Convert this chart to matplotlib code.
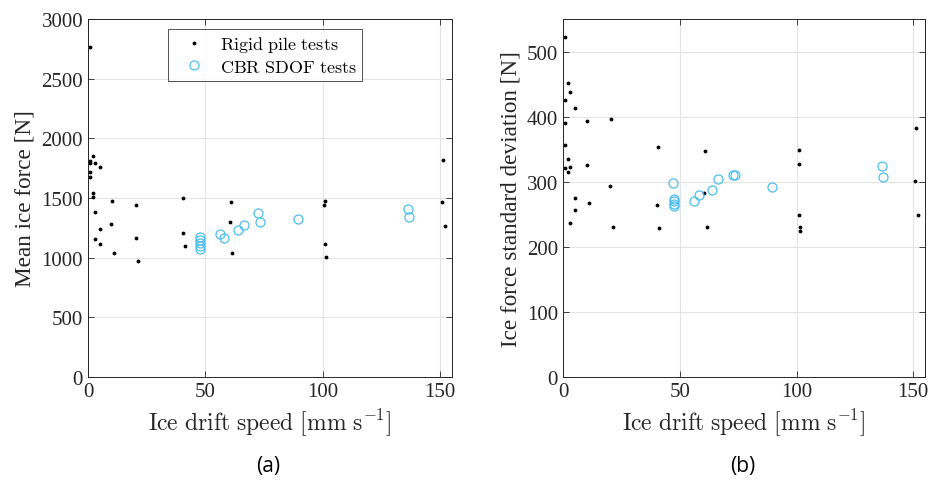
import matplotlib.pyplot as plt

plt.rcParams['font.family'] = ['Liberation Serif', 'DejaVu Serif']
plt.rcParams['mathtext.fontset'] = 'cm'

# (a) mean ice force, rigid pile tests
rigid_speed_a = [1, 2, 1, 1, 3, 5.1, 1, 1, 2, 2, 10.3, 20.6, 3, 10, 5.1, 3, 5.1, 11,
                 20.3, 21.1, 40.6, 40.3, 41.3, 61, 60.5, 61.4, 100.9, 100.6, 100.9,
                 101.5, 151.1, 150.7, 151.9]
rigid_force = [2765, 1852, 1813, 1790, 1796, 1763, 1718, 1673, 1545, 1511, 1478, 1441,
               1380, 1282, 1243, 1159, 1112, 1036, 1168, 975, 1497, 1209, 1101, 1466,
               1295, 1042, 1475, 1441, 1115, 1006, 1815, 1466, 1264]

# (a) mean ice force, CBR SDOF tests
cbr_speed_a = [47.5, 47.6, 47.7, 47.7, 47.8, 56.3, 58.0, 63.8, 66.4, 72.6, 73.3, 89.3,
               136.1, 136.6]
cbr_force = [1176, 1148, 1120, 1094, 1074, 1197, 1166, 1228, 1275, 1376, 1301, 1323,
             1407, 1343]

# (b) ice force standard deviation, rigid pile tests
rigid_speed_b = [1, 2.1, 3.1, 1, 5, 1, 10.4, 20.6, 1, 2.1, 1, 3.1, 2.1, 10.1, 20.1, 5,
                 5, 11.1, 3.1, 21.3, 40.6, 40.3, 41.3, 61, 60.4, 61.5, 101.1, 100.9,
                 101.1, 101.7, 101.7, 151.3, 150.9, 152]
rigid_std = [522, 451, 438, 426, 413, 390, 393, 396, 356, 335, 321, 322, 315, 325, 293,
             275, 257, 267, 237, 230, 353, 265, 229, 347, 283, 231, 349, 328, 249, 231,
             224, 382, 301, 249]

# (b) ice force standard deviation, CBR SDOF tests
cbr_speed_b = [47.2, 47.6, 47.6, 47.7, 47.7, 56.3, 58.1, 63.8, 66.5, 72.9, 73.6, 89.5,
               136.5, 137.0]
cbr_std = [298, 274, 270, 266, 262, 270, 279, 287, 304, 311, 311, 292, 324, 307]

blue = '#4DBEEE'
xlabel = r'$\mathrm{Ice\ drift\ speed\ [mm\ s^{-1}]}$'

fig = plt.figure(figsize=(9.31, 4.81), dpi=100)
ax1 = fig.add_axes([0.0945, 0.2141, 0.391, 0.7443])
ax2 = fig.add_axes([0.6047, 0.2141, 0.3888, 0.7443])

for ax in (ax1, ax2):
    ax.grid(True, color='#e3e3e3', linewidth=0.8)
    ax.set_axisbelow(True)
    ax.tick_params(direction='in', top=True, right=True, labelsize=15,
                   colors='#262626', length=4, width=0.6)
    for s in ax.spines.values():
        s.set_color('#262626')
        s.set_linewidth(0.7)
    ax.set_xlim(0, 155)
    ax.set_xticks([0, 50, 100, 150])
    ax.set_xlabel(xlabel, fontsize=17, color='#262626', labelpad=4)

ax1.plot(rigid_speed_a, rigid_force, '.', color='black', markersize=3.5,
         label='Rigid pile tests')
ax1.plot(cbr_speed_a, cbr_force, 'o', mfc='none', mec=blue, markersize=6.5,
         markeredgewidth=0.9, label='CBR SDOF tests')
ax1.set_ylim(0, 3000)
ax1.set_yticks(range(0, 3001, 500))
ax1.set_ylabel('Mean ice force [N]', fontsize=16.7, color='#262626', labelpad=4)
leg = ax1.legend(loc='upper left', bbox_to_anchor=(0.219, 0.972), borderaxespad=0,
                 frameon=True, fancybox=False, edgecolor='#262626',
                 prop={'size': 13}, handletextpad=0.3, borderpad=0.28,
                 labelspacing=0.25, handlelength=2.3)
leg.get_frame().set_linewidth(0.7)
for t in leg.get_texts():
    t.set_text(r'$\mathrm{' + t.get_text().replace(' ', r'\ ') + '}$')

ax2.plot(rigid_speed_b, rigid_std, '.', color='black', markersize=3.5)
ax2.plot(cbr_speed_b, cbr_std, 'o', mfc='none', mec=blue, markersize=6.5,
         markeredgewidth=0.9)
ax2.set_ylim(0, 550)
ax2.set_yticks(range(0, 501, 100))
ax2.set_ylabel('Ice force standard deviation [N]', fontsize=16.7, color='#262626',
               labelpad=4)

fig.text(0.288, 0.031, '(a)', fontsize=15, family='Open Sans', ha='center', va='center')
fig.text(0.798, 0.031, '(b)', fontsize=15, family='Open Sans', ha='center', va='center')

fig.savefig('out.png', dpi=100)
